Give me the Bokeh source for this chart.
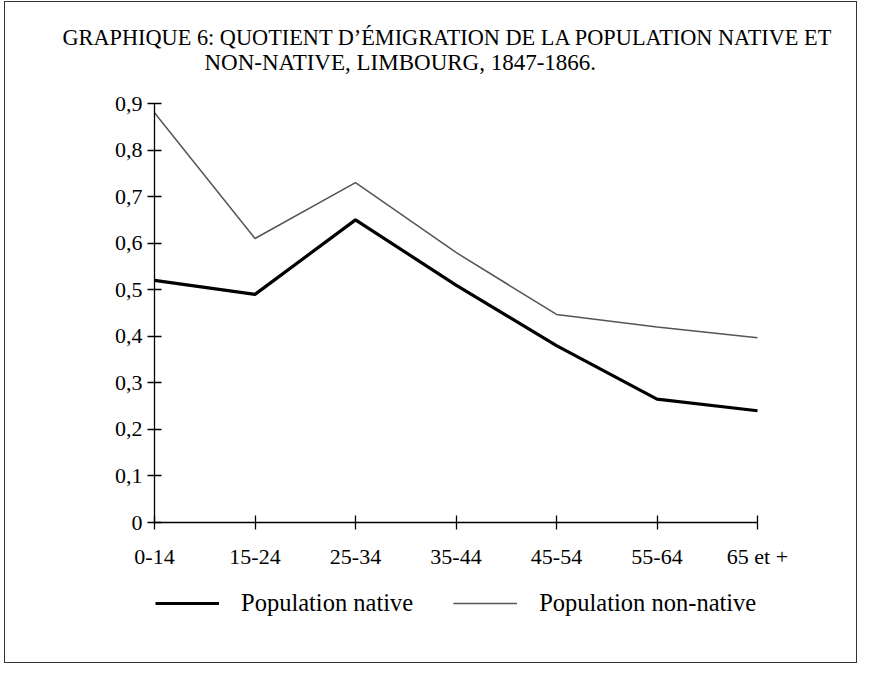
from bokeh.plotting import figure
from bokeh.models import (Range1d, FixedTicker, CustomJSTickFormatter, Title,
                          Legend, LegendItem, ColumnDataSource)
from bokeh.embed import file_html
from bokeh.resources import INLINE

# ---- data ----
age_groups = ["0-14", "15-24", "25-34", "35-44", "45-54", "55-64", "65 et +"]
native = [0.52, 0.49, 0.65, 0.51, 0.38, 0.265, 0.24]
non_native = [0.88, 0.61, 0.73, 0.58, 0.447, 0.42, 0.397]
y_ticks = [0, 0.1, 0.2, 0.3, 0.4, 0.5, 0.6, 0.7, 0.8, 0.9]
title_line1 = "GRAPHIQUE 6: QUOTIENT D\u2019\u00c9MIGRATION DE LA POPULATION NATIVE ET"
title_line2 = "NON-NATIVE, LIMBOURG, 1847-1866."

FONT = "Liberation Serif"

# ---- layout in page pixels (frame is widened so axis labels and legend fit) ----
W, H = 853, 662
ML, MT = 4, 1                      # extra css margins
BORDER_L, BORDER_R, BORDER_T, BORDER_B = 93, 63, 87, 46
PAGE0_X, PAGE0_Y = 8 + ML, 8 + MT
FRAME_L = PAGE0_X + BORDER_L
FRAME_R = PAGE0_X + W - BORDER_R
FRAME_T = PAGE0_Y + BORDER_T
FRAME_B = PAGE0_Y + H - BORDER_B
X0_PX, X6_PX = 161, 764            # where first / last age group sit
TOP_TICK_PX, ZERO_PX = 110, 529    # where the top tick / y = 0 sit

n = len(age_groups) - 1
px_per_x = (X6_PX - X0_PX) / n
x_min = -(X0_PX - FRAME_L) / px_per_x
x_max = n + (FRAME_R - X6_PX) / px_per_x
y_max = y_ticks[-1]
y_per_px = y_max / (ZERO_PX - TOP_TICK_PX)
y_min = -(FRAME_B - ZERO_PX) * y_per_px
y_top = y_max + (TOP_TICK_PX - FRAME_T) * y_per_px

x_idx = list(range(len(age_groups)))
src = ColumnDataSource(dict(x=x_idx, native=native, non_native=non_native))

p = figure(width=W, height=H, output_backend="svg", toolbar_location=None,
           x_range=Range1d(x_min, x_max), y_range=Range1d(y_min, y_top),
           min_border_left=BORDER_L, min_border_right=BORDER_R,
           min_border_top=BORDER_T, min_border_bottom=BORDER_B)
p.styles = {"border": "1.5px solid #333", "margin-left": f"{ML}px", "margin-top": f"{MT}px"}
p.outline_line_color = None
p.xgrid.visible = False
p.ygrid.visible = False
p.background_fill_color = "white"
p.border_fill_color = "white"

r_nat = p.line("x", "native", source=src, line_color="black", line_width=3.2)
r_non = p.line("x", "non_native", source=src, line_color="#555555", line_width=1.5)

# axes
p.xaxis.ticker = FixedTicker(ticks=x_idx)
p.xaxis.major_label_overrides = {i: lab for i, lab in enumerate(age_groups)}
p.xaxis.fixed_location = 0
p.xaxis.bounds = (0, n)
p.yaxis.ticker = FixedTicker(ticks=y_ticks)
p.yaxis.fixed_location = 0
p.yaxis.bounds = (0, y_max)
p.yaxis.formatter = CustomJSTickFormatter(
    code="return tick === 0 ? '0' : tick.toFixed(1).replace('.', ',');")
for ax in (p.xaxis[0], p.yaxis[0]):
    ax.axis_line_color = "black"
    ax.axis_line_width = 1.3
    ax.major_tick_line_color = "black"
    ax.major_tick_line_width = 1.3
    ax.major_tick_in = 7
    ax.major_tick_out = 7
    ax.minor_tick_line_color = None
    ax.major_label_text_font = FONT
    ax.major_label_text_font_size = "22px"
    ax.major_label_text_color = "black"
p.xaxis.major_label_standoff = 14
p.yaxis.major_label_standoff = 5

# titles (the entry nearest the plot is added first)
shift = X0_PX - FRAME_L
spacer = Title(text=" ", text_font=FONT, text_font_size="14px", standoff=0)
t2 = Title(text=title_line2, align="left", offset=50 + shift, standoff=-4,
           text_font=FONT, text_font_size="23px", text_font_style="normal",
           text_color="black")
t1 = Title(text=title_line1, align="left", offset=-92 + shift, standoff=0,
           text_font=FONT, text_font_size="22.3px", text_font_style="normal",
           text_color="black")
p.add_layout(spacer, "above")
p.add_layout(t2, "above")
p.add_layout(t1, "above")

legend = Legend(items=[LegendItem(label="Population native", renderers=[r_nat]),
                       LegendItem(label="Population non-native", renderers=[r_non])],
                orientation="horizontal", location=(shift + 1, 1),
                glyph_width=64, label_standoff=22, spacing=40,
                label_text_font=FONT, label_text_font_size="24.5px",
                label_text_color="black",
                border_line_color=None, background_fill_alpha=0,
                margin=0, padding=0)
p.add_layout(legend, "center")

open("out.html", "w").write(file_html(p, INLINE))
